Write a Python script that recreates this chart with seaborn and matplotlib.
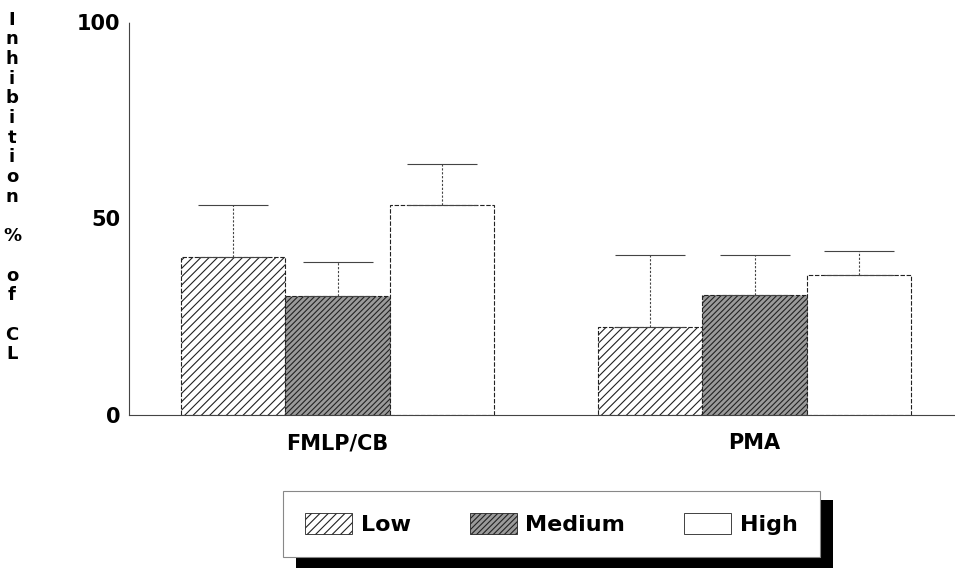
import pandas as pd
import matplotlib
matplotlib.use("Agg")
import matplotlib.pyplot as plt
import seaborn as sns
from matplotlib.patches import Patch, Rectangle

# Data
stimuli = ["FMLP/CB", "PMA"]
levels = ["Low", "Medium", "High"]
low_vals = [40.3, 22.3]
medium_vals = [30.3, 30.5]
high_vals = [53.4, 35.6]
low_err = [13.1, 18.4]
medium_err = [8.7, 10.2]
high_err = [10.5, 6.2]
y_ticks = [0, 50, 100]

df = pd.DataFrame({
    "stimulus": stimuli * 3,
    "level": [lv for lv in levels for _ in stimuli],
    "value": low_vals + medium_vals + high_vals,
})
errs = {"Low": low_err, "Medium": medium_err, "High": high_err}

sns.set_style("white")
plt.rcParams["font.family"] = ["DejaVu Sans"]
plt.rcParams["text.color"] = "black"
plt.rcParams["xtick.color"] = "black"
plt.rcParams["ytick.color"] = "black"
plt.rcParams["hatch.linewidth"] = 0.8

fig = plt.figure(figsize=(9.55, 5.71), dpi=100)
ax = fig.add_axes([129 / 955, 1 - 415 / 571, 1 - 129 / 955, (415 - 22) / 571])

styles = {
    "Low": dict(face="white", hatch="////"),
    "Medium": dict(face="#9a9a9a", hatch="//////"),
    "High": dict(face="white", hatch=""),
}

sns.barplot(data=df, x="stimulus", y="value", hue="level", hue_order=levels,
            order=stimuli, palette=["white"] * 3, width=0.75, errorbar=None,
            legend=False, edgecolor="#222222", linewidth=0.8, ax=ax)

for level, cont in zip(levels, ax.containers):
    st = styles[level]
    for bar, err in zip(cont, errs[level]):
        bar.set_facecolor(st["face"])
        bar.set_hatch(st["hatch"])
        bar.set_linestyle((0, (4, 1.5)))
        xc = bar.get_x() + bar.get_width() / 2
        _, caps, lines = ax.errorbar(xc, bar.get_height(), yerr=[[0], [err]],
                                     fmt="none", ecolor="#444444", elinewidth=0.8,
                                     capsize=25, capthick=0.8)
        lines[0].set_linestyle((0, (2, 1.5)))
        for c in caps:
            c.set_linestyle((0, (4, 1.5)))

ax.set_ylim(0, 100)
ax.set_xlim(-0.5, -0.5 + 826 / 417)
ax.set_yticks(y_ticks)
ax.set_yticklabels([str(t) for t in y_ticks], fontsize=15, fontweight="bold")
ax.set_xticklabels(stimuli, fontsize=15, fontweight="bold")
ax.tick_params(axis="y", length=0, pad=6)
ax.tick_params(axis="x", length=0, pad=13)
ax.set_xlabel("")
ax.set_ylabel("")
for side in ["top", "right"]:
    ax.spines[side].set_visible(False)
for side in ["left", "bottom"]:
    ax.spines[side].set_color("#444444")
    ax.spines[side].set_linewidth(0.8)
    ax.spines[side].set_linestyle((0, (5, 1)))

# stacked vertical axis title
label = "\n".join(list("Inhibition")) + "\n\n%\n\no\nf\n\nC\nL"
fig.text(12 / 955, 1 - 187 / 571, label, ha="center", va="center",
         fontsize=13, fontweight="bold", linespacing=1.12, multialignment="center")

# legend with black drop shadow
x0, x1 = 283 / 955, 820 / 955
y0, y1 = 1 - 558 / 571, 1 - 490 / 571
fig.patches.append(Rectangle((x0 + 13 / 955, y0 - 10 / 571), x1 - x0, y1 - y0,
                             transform=fig.transFigure, facecolor="black",
                             edgecolor="none", zorder=1))
handles = [Patch(facecolor=styles[lv]["face"], hatch=styles[lv]["hatch"],
                 edgecolor="#222222", linewidth=0.6) for lv in levels]
leg = fig.legend(handles, levels, loc="center", ncol=3,
                 bbox_to_anchor=(x0, y0, x1 - x0, y1 - y0), mode="expand",
                 fancybox=False, framealpha=1, edgecolor="#888888",
                 handlelength=2.1, handleheight=1.1, handletextpad=0.4,
                 borderpad=1.0, borderaxespad=0, prop={"size": 16, "weight": "bold"})
leg.get_frame().set_linewidth(0.8)
leg.set_zorder(5)

fig.savefig("out.png", dpi=100)
